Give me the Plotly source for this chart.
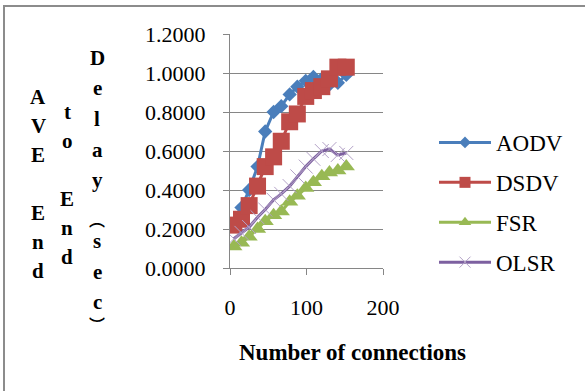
import plotly.graph_objects as go

# ---- data ----
connections = [5, 15, 25, 36, 46, 57, 67, 78, 88, 99, 109, 120, 130, 141, 152]
aodv = [0.22, 0.31, 0.40, 0.52, 0.70, 0.80, 0.83, 0.89, 0.93, 0.96, 0.98, 0.97, 0.94, 0.95, 0.99]
dsdv = [0.22, 0.25, 0.32, 0.42, 0.52, 0.57, 0.65, 0.75, 0.79, 0.88, 0.91, 0.93, 0.97, 1.03, 1.03]
fsr = [0.11, 0.13, 0.16, 0.20, 0.24, 0.27, 0.29, 0.34, 0.37, 0.41, 0.44, 0.47, 0.49, 0.50, 0.52]
olsr = [0.15, 0.18, 0.21, 0.26, 0.30, 0.35, 0.38, 0.42, 0.47, 0.52, 0.56, 0.60, 0.61, 0.58, 0.59]
series_names = ["AODV", "DSDV", "FSR", "OLSR"]
# stacked (vertical) y-axis title "AVE End to End Delay (sec)"; parentheses in vertical form
y_title_columns = [["A", "V", "E", "", "E", "n", "d"],
                   ["t", "o", "", "E", "n", "d"],
                   ["D", "e", "l", "a", "y", "︵", "s", "e", "c", "︶"]]
x_title = "Number of connections"

W, H = 585, 391
L, R, T, B = 230, 383, 34, 268  # plot area in px
FONT = "Liberation Serif"
CJK = "Noto Sans CJK SC"

def px_to_paper(px, py):
    return (px - L) / (R - L), (B - py) / (B - T)

styles = [
    dict(color="#4A7EBB", symbol="diamond", size=11, mline=None, mcolor="#4A7EBB"),
    dict(color="#BE4B48", symbol="square", size=17, mline=None, mcolor="#BE4B48"),
    dict(color="#98B954", symbol="triangle-up", size=15, mline=None, mcolor="#98B954"),
    dict(color="#7D60A0", symbol="x-thin-open", size=14, mline=1, mcolor="#B3A2C7"),
]
legend_sizes = [9, 11, 11, 11]

fig = go.Figure()
for name, vals, st in zip(series_names, [aodv, dsdv, fsr, olsr], styles):
    marker = dict(symbol=st["symbol"], size=st["size"], color=st["mcolor"])
    if st["mline"]:
        marker["line"] = dict(width=st["mline"], color=st["mcolor"])
    fig.add_trace(go.Scatter(x=connections, y=vals, mode="lines+markers", name=name,
                             line=dict(color=st["color"], width=3),
                             marker=marker, showlegend=False))
# legend entries (smaller markers, as in the reference legend)
for i, (name, st) in enumerate(zip(series_names, styles)):
    marker = dict(symbol=st["symbol"], size=legend_sizes[i], color=st["mcolor"])
    if st["mline"]:
        marker["line"] = dict(width=st["mline"], color=st["mcolor"])
    fig.add_trace(go.Scatter(x=[None], y=[None], mode="lines+markers", name=name,
                             line=dict(color=st["color"], width=3), marker=marker,
                             legendgroup=name, showlegend=True))

fig.update_layout(
    width=W, height=H,
    margin=dict(l=L, r=W - R, t=T, b=H - B, pad=0),
    paper_bgcolor="white", plot_bgcolor="white",
    font=dict(family=FONT, size=22, color="black"),
    showlegend=True,
    legend=dict(xref="container", yref="container", x=434 / W, y=1 - 121 / H,
                xanchor="left", yanchor="top", font=dict(family=FONT, size=23),
                tracegroupgap=7, itemwidth=52, bgcolor="rgba(0,0,0,0)"),
)
fig.update_xaxes(range=[0, 200], dtick=100, tick0=0, showgrid=False, zeroline=False,
                 showline=True, linecolor="#868686", linewidth=1,
                 ticks="outside", ticklen=6, tickcolor="#868686", ticklabelstandoff=14,
                 tickfont=dict(family=FONT, size=22), fixedrange=True)
fig.update_yaxes(range=[0, 1.2], dtick=0.2, tick0=0, tickformat=".4f",
                 showgrid=True, gridcolor="#868686", gridwidth=1, zeroline=False,
                 showline=True, linecolor="#868686", linewidth=1,
                 ticks="outside", ticklen=6, tickcolor="#868686", ticklabelstandoff=13,
                 tickfont=dict(family=FONT, size=22), fixedrange=True)

annotations = []
# y-axis title: stacked letters in three columns
col_x = [38, 67, 97]
col_y0 = [97, 112, 58]
col_step = [29, 29, 30.5]
for cx, y0, step, letters in zip(col_x, col_y0, col_step, y_title_columns):
    for k, ch in enumerate(letters):
        if not ch:
            continue
        py = y0 + k * step
        fam, size = FONT, 21
        if ch in "︵︶":
            fam, size = CJK, 16
            py += 8 if ch == "︵" else -9
        xp, yp = px_to_paper(cx, py)
        annotations.append(dict(text=f"<b>{ch}</b>", x=xp, y=yp, xref="paper", yref="paper",
                                showarrow=False, xanchor="center", yanchor="middle",
                                font=dict(family=fam, size=size, color="black")))
xp, yp = px_to_paper(352, 352)
annotations.append(dict(text=f"<b>{x_title}</b>", x=xp, y=yp, xref="paper", yref="paper",
                        showarrow=False, xanchor="center", yanchor="middle",
                        font=dict(family=FONT, size=23, color="black")))
fig.update_layout(annotations=annotations)

# chart border (only left and top edges visible in the reference)
x0, y0 = px_to_paper(4, 6)
x1, y1 = px_to_paper(W + 20, H + 20)
fig.add_shape(type="rect", xref="paper", yref="paper", x0=x0, y0=y0, x1=x1, y1=y1,
              line=dict(color="#8C8C8C", width=2), fillcolor="rgba(0,0,0,0)", layer="below")

fig.write_html("out.html")
